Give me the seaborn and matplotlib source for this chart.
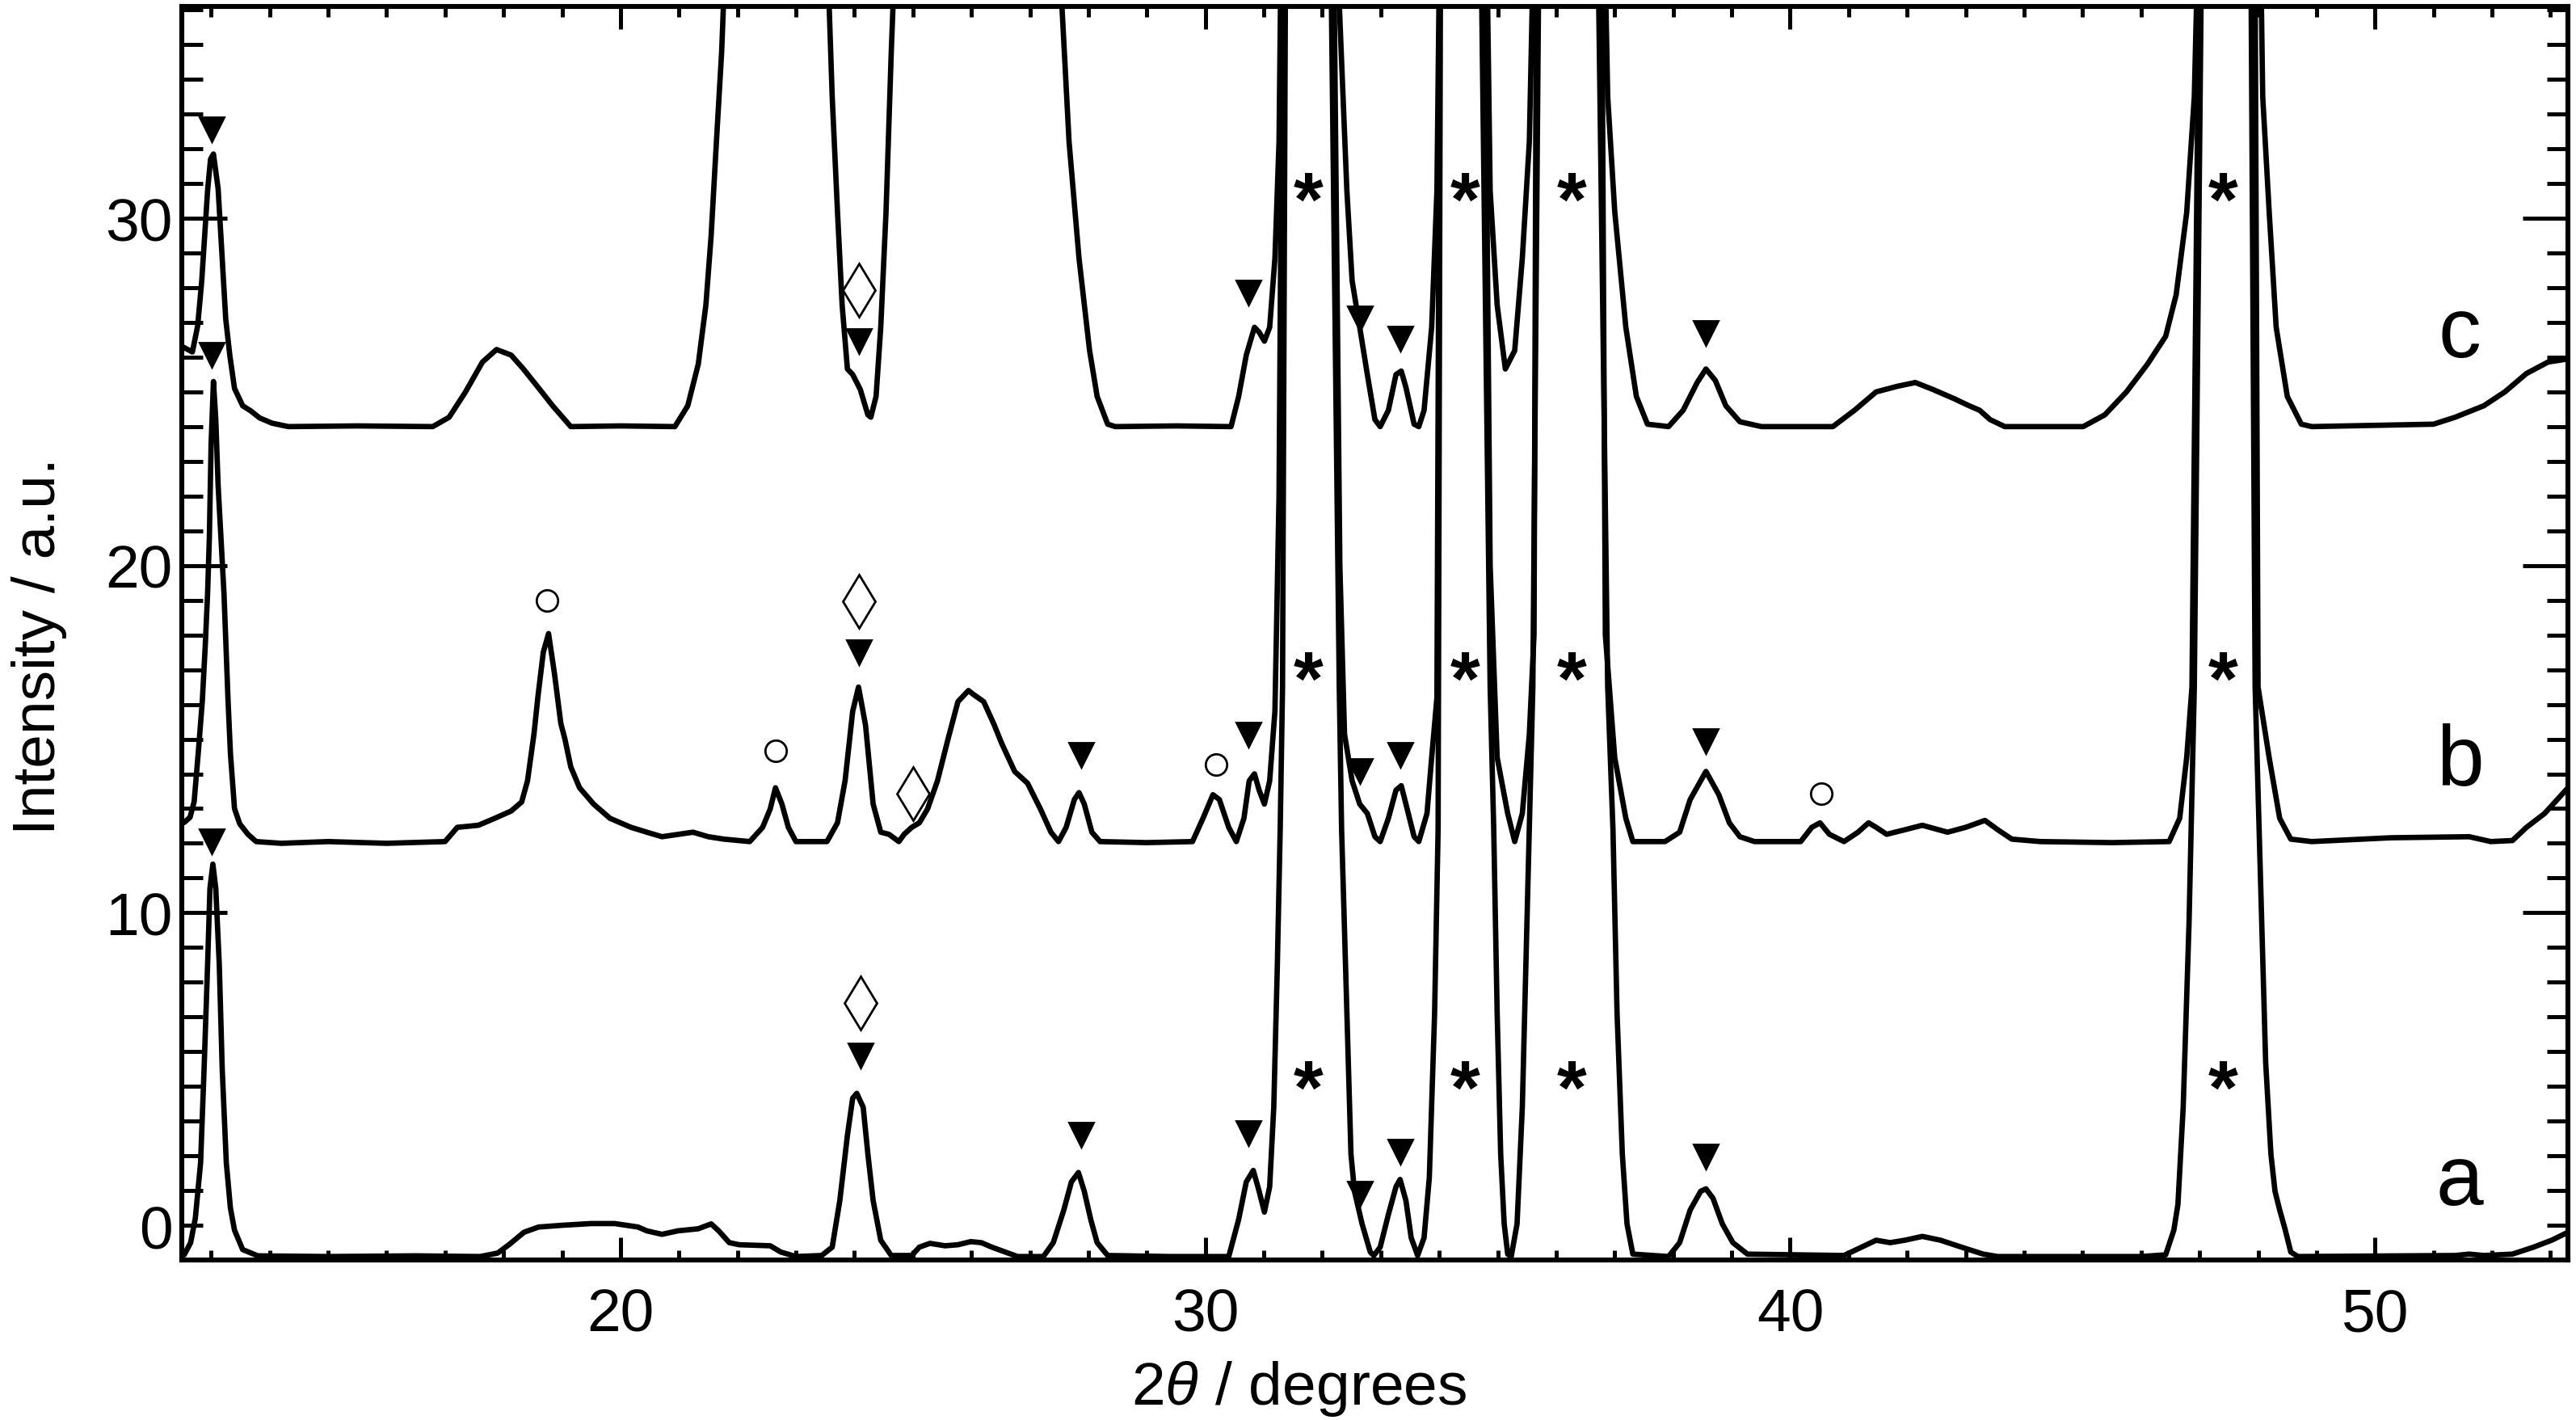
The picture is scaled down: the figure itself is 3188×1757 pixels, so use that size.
import matplotlib
matplotlib.use("Agg")
import matplotlib.pyplot as plt
import matplotlib.transforms as mtransforms
import seaborn as sns
from matplotlib.ticker import MultipleLocator

# ---- digitised XRD patterns (2theta in degrees, intensity in a.u., offset) ----
# off-scale maxima of the big reflections are given a nominal value of 60
a_x = [12.54, 12.65, 12.73, 12.82, 12.88, 12.94, 12.98, 13.03, 13.08, 13.14, 13.19, 13.26, 13.33,
       13.40, 13.54, 13.80, 15.00, 16.50, 17.60, 17.90, 18.10, 18.35, 18.60, 19.00, 19.50, 19.90,
       20.30, 20.45, 20.71, 20.98, 21.33, 21.55, 21.68, 21.86, 22.03, 22.56, 22.74, 23.00, 23.44,
       23.62, 23.75, 23.88, 23.97, 24.04, 24.15, 24.23, 24.32, 24.45, 24.63, 24.98, 25.11, 25.29,
       25.55, 25.77, 25.99, 26.17, 26.35, 26.61, 26.79, 27.23, 27.40, 27.58, 27.71, 27.83, 27.93,
       28.04, 28.15, 28.33, 29.40, 30.40, 30.57, 30.70, 30.82, 30.92, 31.01, 31.10, 31.17, 31.23,
       31.28, 31.32, 31.37, 31.77, 32.15, 32.29, 32.33, 32.42, 32.49, 32.55, 32.68, 32.82, 32.88,
       32.99, 33.13, 33.26, 33.33, 33.43, 33.52, 33.63, 33.74, 33.83, 33.92, 33.98, 34.02, 34.42,
       34.72, 34.87, 34.93, 34.99, 35.05, 35.11, 35.17, 35.23, 35.33, 35.42, 35.48, 35.54, 35.60,
       35.70, 36.26, 36.72, 36.88, 36.97, 37.04, 37.13, 37.21, 37.31, 37.92, 38.11, 38.29, 38.47,
       38.56, 38.68, 38.84, 39.02, 39.27, 40.92, 41.22, 41.47, 41.71, 41.96, 42.26, 42.57, 42.93,
       43.30, 43.55, 46.00, 46.42, 46.56, 46.63, 46.72, 46.82, 46.91, 47.03, 47.54, 47.88, 47.95,
       48.04, 48.13, 48.22, 48.29, 48.37, 48.46, 48.56, 48.68, 51.37, 51.61, 51.86, 52.35, 52.71,
       53.02, 53.30]
a_y = [0.15, 0.5, 1.2, 2.8, 5.5, 8.5, 10.7, 11.4, 10.7, 8.5, 5.5, 2.8, 1.5,
       0.86, 0.3, 0.12, 0.1, 0.12, 0.1, 0.2, 0.45, 0.8, 0.95, 1.0, 1.05, 1.05,
       0.95, 0.84, 0.74, 0.84, 0.9, 1.04, 0.84, 0.5, 0.44, 0.41, 0.23, 0.1, 0.13,
       0.37, 1.71, 3.59, 4.66, 4.8, 4.4, 3.05, 1.71, 0.57, 0.13, 0.13, 0.37, 0.48,
       0.41, 0.44, 0.53, 0.5, 0.37, 0.21, 0.1, 0.1, 0.5, 1.44, 2.25, 2.52, 1.98,
       1.17, 0.5, 0.13, 0.1, 0.1, 1.17, 2.25, 2.58, 1.98, 1.38, 2.11, 4.4, 8.4,
       12.4, 16.5, 37.0, 60.0, 37.0, 16.5, 12.4, 7.1, 3.05, 1.98, 1.04, 0.23, 0.13,
       0.37, 1.31, 2.11, 2.32, 1.71, 0.64, 0.13, 0.64, 2.38, 7.1, 12.4, 37.0, 60.0,
       37.0, 16.5, 12.5, 7.1, 3.05, 1.04, 0.17, 0.1, 1.04, 4.4, 8.4, 12.4, 16.5,
       37.0, 60.0, 37.0, 16.5, 12.4, 7.1, 3.05, 1.04, 0.17, 0.1, 0.5, 1.44, 1.98,
       2.05, 1.78, 1.04, 0.5, 0.17, 0.13, 0.37, 0.57, 0.5, 0.57, 0.68, 0.57, 0.37,
       0.17, 0.1, 0.1, 0.15, 0.86, 1.6, 4.4, 9.7, 16.5, 37.0, 60.0, 37.0, 16.5,
       11.1, 5.7, 3.05, 1.98, 1.44, 0.9, 0.23, 0.1, 0.13, 0.17, 0.13, 0.17, 0.37,
       0.57, 0.8]

b_x = [12.54, 12.64, 12.71, 12.78, 12.85, 12.90, 12.94, 12.97, 13.00, 13.04, 13.08, 13.12, 13.22,
       13.29, 13.33, 13.40, 13.49, 13.63, 13.77, 14.20, 15.00, 16.00, 17.00, 17.21, 17.57, 17.85,
       18.13, 18.31, 18.41, 18.52, 18.59, 18.68, 18.77, 18.87, 18.98, 19.05, 19.15, 19.30, 19.54,
       19.82, 20.18, 20.45, 20.71, 21.24, 21.50, 21.77, 22.21, 22.43, 22.56, 22.65, 22.76, 22.87,
       23.00, 23.53, 23.71, 23.84, 23.97, 24.07, 24.19, 24.32, 24.45, 24.59, 24.76, 24.85, 24.98,
       25.11, 25.25, 25.42, 25.60, 25.77, 25.95, 26.04, 26.21, 26.39, 26.52, 26.74, 26.96, 27.18,
       27.36, 27.49, 27.62, 27.76, 27.84, 27.93, 28.06, 28.20, 29.00, 29.78, 29.96, 30.13, 30.24,
       30.40, 30.53, 30.66, 30.75, 30.84, 30.92, 31.01, 31.10, 31.19, 31.26, 31.32, 31.77, 32.20,
       32.30, 32.38, 32.51, 32.64, 32.77, 32.90, 32.99, 33.13, 33.26, 33.35, 33.43, 33.57, 33.65,
       33.79, 33.87, 33.96, 34.01, 34.42, 34.78, 34.87, 34.99, 35.17, 35.29, 35.42, 35.54, 35.62,
       35.66, 36.26, 36.78, 36.84, 37.00, 37.19, 37.31, 37.86, 38.11, 38.29, 38.56, 38.78, 38.96,
       39.14, 39.39, 40.18, 40.37, 40.51, 40.67, 40.92, 41.16, 41.34, 41.47, 41.65, 41.96, 42.26,
       42.69, 43.00, 43.33, 43.55, 43.79, 44.28, 45.50, 46.48, 46.66, 46.78, 46.87, 46.99, 47.54,
       47.95, 48.00, 48.19, 48.37, 48.56, 48.92, 50.27, 51.61, 51.98, 52.35, 52.59, 52.90, 53.30]
b_y = [12.6, 12.75, 13.2, 14.6, 16.1, 17.7, 19.2, 20.8, 23.5, 25.3, 24.2, 22.3, 19.2,
       16.1, 14.6, 13.0, 12.56, 12.26, 12.05, 12.0, 12.05, 12.0, 12.05, 12.46, 12.52, 12.72,
       12.93, 13.19, 13.8, 15.14, 16.25, 17.5, 18.04, 16.9, 15.45, 15.0, 14.2, 13.6, 13.13,
       12.72, 12.46, 12.32, 12.19, 12.32, 12.19, 12.12, 12.05, 12.46, 12.99, 13.6, 13.13, 12.46,
       12.05, 12.05, 12.59, 13.8, 15.8, 16.5, 15.4, 13.13, 12.32, 12.26, 12.05, 12.26, 12.46,
       12.59, 12.99, 13.8, 15.0, 16.08, 16.4, 16.28, 16.08, 15.41, 14.87, 14.07, 13.73, 12.99,
       12.32, 12.05, 12.46, 13.26, 13.46, 13.13, 12.32, 12.05, 12.02, 12.05, 12.72, 13.4, 13.26,
       12.46, 12.05, 12.72, 13.8, 14.0, 13.53, 13.13, 13.8, 15.81, 22.0, 37.0, 60.0, 37.0,
       20.0, 15.14, 13.8, 13.13, 12.86, 12.19, 12.05, 12.72, 13.53, 13.66, 13.13, 12.19, 12.05,
       12.86, 14.47, 16.2, 37.0, 60.0, 37.0, 20.0, 14.47, 12.86, 12.05, 12.86, 15.14, 18.0,
       37.0, 60.0, 37.0, 18.0, 14.47, 12.72, 12.05, 12.05, 12.32, 13.26, 14.07, 13.4, 12.59,
       12.19, 12.05, 12.05, 12.46, 12.59, 12.26, 12.05, 12.32, 12.59, 12.46, 12.26, 12.39, 12.52,
       12.32, 12.46, 12.66, 12.39, 12.12, 12.05, 12.02, 12.05, 12.72, 14.47, 16.5, 37.0, 60.0,
       37.0, 16.5, 14.47, 12.72, 12.12, 12.05, 12.16, 12.19, 12.05, 12.08, 12.46, 12.86, 13.6]

c_x = [12.51, 12.68, 12.77, 12.84, 12.89, 12.94, 12.99, 13.04, 13.12, 13.19, 13.25, 13.32, 13.40,
       13.54, 13.68, 13.83, 14.04, 14.32, 15.50, 16.79, 17.07, 17.35, 17.64, 17.88, 18.13, 18.34,
       18.62, 18.84, 19.15, 20.00, 20.93, 21.15, 21.33, 21.46, 21.55, 21.64, 21.73, 21.78, 22.60,
       23.55, 23.62, 23.71, 23.79, 23.88, 23.97, 24.10, 24.23, 24.28, 24.37, 24.45, 24.54, 24.63,
       24.68, 26.00, 27.52, 27.67, 27.84, 28.02, 28.15, 28.33, 28.46, 29.50, 30.44, 30.57, 30.70,
       30.84, 30.92, 31.01, 31.10, 31.19, 31.26, 31.29, 31.77, 32.27, 32.42, 32.51, 32.64, 32.77,
       32.90, 32.99, 33.13, 33.26, 33.35, 33.43, 33.57, 33.65, 33.74, 33.87, 33.96, 34.00, 34.42,
       34.82, 34.87, 34.99, 35.13, 35.29, 35.42, 35.54, 35.60, 36.26, 36.84, 36.88, 37.00, 37.19,
       37.37, 37.56, 37.92, 38.17, 38.41, 38.56, 38.72, 38.90, 39.14, 39.51, 40.73, 41.10, 41.47,
       41.83, 42.14, 42.44, 42.81, 43.06, 43.24, 43.42, 43.67, 45.01, 45.38, 45.75, 46.11, 46.42,
       46.60, 46.78, 46.91, 46.96, 47.54, 48.05, 48.08, 48.19, 48.31, 48.50, 48.74, 48.92, 51.00,
       51.37, 51.86, 52.22, 52.59, 52.96, 53.30]
c_y = [26.3, 26.15, 26.9, 28.2, 29.5, 30.8, 31.7, 31.85, 30.85, 28.85, 27.1, 26.05, 25.1,
       24.6, 24.45, 24.25, 24.1, 24.0, 24.02, 24.0, 24.27, 25.0, 25.86, 26.22, 26.06, 25.66,
       25.07, 24.6, 24.0, 24.02, 24.0, 24.6, 25.8, 27.5, 29.5, 32.2, 34.8, 37.0, 60.0,
       37.0, 33.5, 30.2, 27.5, 25.66, 25.5, 25.07, 24.34, 24.27, 24.87, 26.86, 30.17, 34.8,
       37.0, 60.0, 37.0, 32.2, 28.85, 26.2, 24.87, 24.07, 24.0, 24.02, 24.0, 24.87, 26.06,
       26.86, 26.72, 26.46, 26.86, 28.85, 32.2, 37.0, 60.0, 37.0, 30.8, 28.2, 26.86, 25.5,
       24.2, 24.0, 24.47, 25.5, 25.6, 25.13, 24.07, 24.0, 24.47, 26.86, 30.8, 37.0, 60.0,
       37.0, 30.8, 27.5, 25.66, 26.19, 28.85, 32.2, 37.0, 60.0, 37.0, 33.5, 30.2, 26.86,
       24.87, 24.07, 24.0, 24.47, 25.27, 25.66, 25.33, 24.6, 24.14, 24.0, 24.0, 24.47, 25.0,
       25.16, 25.27, 25.07, 24.8, 24.6, 24.47, 24.2, 24.0, 24.0, 24.34, 25.0, 25.8, 26.6,
       27.8, 30.17, 33.5, 37.0, 60.0, 37.0, 33.5, 30.2, 26.86, 24.87, 24.07, 24.0, 24.07,
       24.27, 24.6, 25.0, 25.53, 25.86, 25.95]

# ---- phase markers ----
tri_x = [13.01, 24.08, 30.73, 32.64, 33.33, 38.56,
         13.01, 24.08, 27.87, 30.73, 32.64, 33.33, 38.56,
         13.01, 24.10, 27.87, 30.73, 32.64, 33.33, 38.56]
tri_y = [32.56, 26.46, 27.85, 27.12, 26.53, 26.70,
         26.06, 17.51, 14.54, 15.14, 14.09, 14.54, 14.94,
         12.05, 5.88, 3.60, 3.66, 1.92, 3.13, 2.99]
circ_x = [18.74, 22.65, 30.18, 40.53]
circ_y = [18.99, 14.67, 14.27, 13.42]
diam_x = [24.08, 24.08, 25.00, 24.10]
diam_y = [27.92, 18.97, 13.42, 7.40]
star_x = [31.76, 34.44, 36.27, 47.40] * 3
star_y = [30.84] * 4 + [17.04] * 4 + [5.27] * 4
labels = ["a", "b", "c"]
label_x = [51.45, 51.45, 51.45]
label_y = [2.25, 14.34, 26.66]

sns.set_theme(style="ticks")
plt.rcParams["font.family"] = ["Liberation Sans", "DejaVu Sans"]
plt.rcParams["mathtext.fontset"] = "custom"
plt.rcParams["mathtext.rm"] = "Liberation Sans"
plt.rcParams["mathtext.it"] = "Liberation Sans:italic"

fig = plt.figure(figsize=(15.94, 8.79), dpi=200)
ax = fig.add_axes([0.0706, 0.1126, 0.9263, 0.8823])

for xs, ys in [(a_x, a_y), (b_x, b_y), (c_x, c_y)]:
    sns.lineplot(x=xs, y=ys, ax=ax, color="black", linewidth=2.4,
                 estimator=None, sort=False, legend=False)

ax.plot(tri_x, tri_y, ls="none", marker="v", ms=11, color="black", zorder=5)
ax.plot(circ_x, circ_y, ls="none", marker="o", ms=9.5, mfc="white", mec="black", mew=1.0, zorder=5)
ax.plot(diam_x, diam_y, ls="none", marker="d", ms=17, mfc="white", mec="black", mew=1.0, zorder=5)

# the asterisk glyph sits high in its text box, shift it down to its visual centre
star_shift = ax.transData + mtransforms.ScaledTranslation(0, -7 / 72, fig.dpi_scale_trans)
for x, y in zip(star_x, star_y):
    ax.text(x, y, "*", ha="center", va="center", fontsize=34, fontweight="bold",
            color="black", transform=star_shift)
for t, x, y in zip(labels, label_x, label_y):
    ax.text(x, y, t, ha="center", va="center", fontsize=38, color="black")

ax.set_xlim(12.5, 53.3)
ax.set_ylim(0, 36.1)
ax.xaxis.set_major_locator(MultipleLocator(10))
ax.xaxis.set_minor_locator(MultipleLocator(1))
ax.yaxis.set_major_locator(MultipleLocator(10))
ax.yaxis.set_minor_locator(MultipleLocator(1))
ax.tick_params(axis="both", which="both", direction="in", top=True, right=True,
               colors="black", width=1.8, labelsize=27)
ax.tick_params(axis="x", which="major", length=10, pad=12)
ax.tick_params(axis="x", which="minor", length=4.5)
ax.tick_params(axis="y", which="major", length=20, pad=4)
ax.tick_params(axis="y", which="minor", length=9.5)
for s in ax.spines.values():
    s.set_linewidth(2.2)
    s.set_color("black")

ax.set_xlabel(r"2$\it{\theta}$ / degrees", fontsize=27, color="black", labelpad=7)
ax.set_ylabel("Intensity / a.u.", fontsize=27, color="black", labelpad=17)
ax.xaxis.label.set_x(0.468)
ax.yaxis.label.set_y(0.49)

fig.canvas.draw()
for lab in ax.get_yticklabels():
    if lab.get_text() in ("0", "−0"):
        lab.set_va("bottom")

fig.savefig("out.png", dpi=200)
